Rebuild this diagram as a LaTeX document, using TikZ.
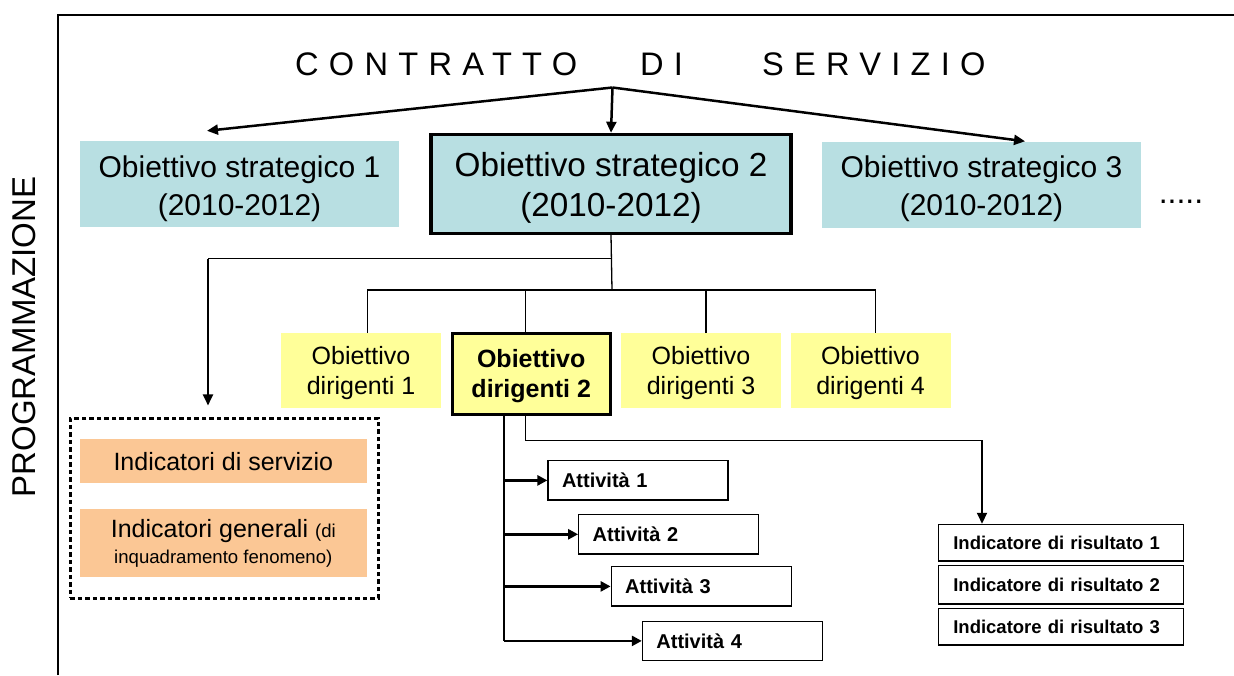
\documentclass[tikz,border=0pt]{standalone}
\usepackage{fontspec}
\setmainfont{Liberation Sans}
\newfontfamily\spacedfont[LetterSpace=31.5]{Liberation Sans}
\usetikzlibrary{arrows.meta,positioning}
\definecolor{stratfill}{HTML}{B8DFE2}
\definecolor{dirfill}{HTML}{FFFF99}
\definecolor{indfill}{HTML}{FBC795}
\tikzset{
  stratbox/.style={fill=stratfill,minimum width=319pt,minimum height=86pt,
                   align=center,inner sep=0pt,font=\fontsize{30}{38}\selectfont,
                   execute at begin node={\rule{0pt}{68.5pt}}},
  stratmain/.style={stratbox,draw=black,line width=3.3pt,minimum width=360pt,
                    minimum height=99pt,font=\fontsize{33.3}{40}\selectfont,
                    execute at begin node={\rule{0pt}{72pt}}},
  dirbox/.style={fill=dirfill,minimum width=160pt,minimum height=75pt,
                 align=center,inner sep=0pt,font=\fontsize{25}{30}\selectfont,
                 execute at begin node={\rule{0pt}{53pt}}},
  dirmain/.style={dirbox,draw=black,line width=3pt,minimum width=157.7pt,
                  minimum height=81.3pt,font=\fontsize{25}{30}\selectfont\bfseries},
  indbox/.style={fill=indfill,minimum width=286.7pt,align=center,inner sep=0pt,
                 font=\fontsize{25}{26}\selectfont},
  groupbox/.style={draw=black,line width=2.5pt,dash pattern=on 4.5pt off 3pt,
                   minimum width=308pt,minimum height=180pt,inner sep=0pt},
  actbox/.style={draw=black,line width=1.2pt,text width=152pt,inner xsep=14pt,
                 inner ysep=0pt,minimum height=39.3pt,align=left,
                 font=\fontsize{20}{24}\selectfont\bfseries},
  resbox/.style={draw=black,line width=1.2pt,text width=215pt,inner xsep=15pt,
                 inner ysep=0pt,minimum height=36.7pt,align=left,
                 font=\fontsize{18.5}{22}\selectfont\bfseries},
  thinline/.style={line width=1.3pt},
  thickarr/.style={-{Triangle[length=11pt,width=10pt]},line width=2.5pt},
  actarr/.style={-{Triangle[length=10pt,width=10pt]},line width=2.5pt},
  downarr/.style={-{Triangle[length=11pt,width=10pt]},line width=2pt}
}

\begin{document}
\begin{tikzpicture}[x=1pt,y=-1pt]
  \useasboundingbox (0,0) rectangle (1234,675);
  \draw[thinline] (58,675) -- (58,15) -- (1234,15);

  \node[rotate=90,inner sep=0pt,font=\fontsize{33}{33}\selectfont] (prog) at (24,337) {PROGRAMMAZIONE};
  \node[anchor=base west,inner sep=0pt,font=\fontsize{32.6}{36}\spacedfont] (title) at (295,75)
    {CONTRATTO\hspace{63pt}DI\hspace{79pt}SERVIZIO};

  % obiettivi strategici
  \node[stratbox] (s1) at (239.5,184) {Obiettivo strategico 1\\(2010-2012)};
  \node[stratmain] (s2) at (611,183.9) {Obiettivo strategico 2\\(2010-2012)};
  \node[stratbox] (s3) at (981.5,184.5) {Obiettivo strategico 3\\(2010-2012)};
  \node[anchor=base,inner sep=0pt,font=\fontsize{32}{32}\selectfont] (more) at (1181,203) {.....};

  \coordinate (hub) at (612.5,87.5);
  \draw[thickarr] (hub) -- ([xshift=-32.5pt,yshift=10pt]s1.north);
  \draw[thickarr] (hub) -- (s2.north);
  \draw[thickarr] (hub) -- ([xshift=43.5pt]s3.north);

  % obiettivi dirigenti
  \node[dirbox] (d1) at (361,370.8) {Obiettivo\\dirigenti 1};
  \node[dirmain] (d2) at (531.2,373.9) {Obiettivo\\dirigenti 2};
  \node[dirbox] (d3) at (701,370.8) {Obiettivo\\dirigenti 3};
  \node[dirbox] (d4) at (870.5,370.8) {Obiettivo\\dirigenti 4};

  \coordinate (fork1) at (612,258.5);
  \coordinate (fork2) at (612,290);
  \draw[thinline] (s2.south) -- (fork2);
  \draw[thinline] ([xshift=6.3pt]d1.north) -- ([xshift=6.3pt]d1.north |- fork2)
    -- ([xshift=5.3pt]d4.north |- fork2) -- ([xshift=5.3pt]d4.north);
  \draw[thinline] ([xshift=-5.8pt]d2.north) -- ([xshift=-5.8pt]d2.north |- fork2);
  \draw[thinline] ([xshift=5pt]d3.north) -- ([xshift=5pt]d3.north |- fork2);

  % indicatori
  \node[groupbox] (grp) at (224.4,508.3) {};
  \node[indbox,minimum height=44pt] (isrv) at (223.3,461.3) {Indicatori di servizio};
  \node[indbox,minimum height=67.4pt] (igen) at (223.3,543)
    {Indicatori generali {\fontsize{18.6}{22}\selectfont(di}\\{\fontsize{18.6}{22}\selectfont inquadramento fenomeno)}};

  \coordinate (grptop) at ([xshift=-16.4pt]grp.north);
  \draw[thinline] (fork1) -- (fork1 -| grptop);
  \draw[downarr,shorten >=11.6pt] (fork1 -| grptop) -- (grptop);

  % attivita
  \node[actbox] (a1) at (638,480.4) {Attività 1};
  \node[actbox] (a2) at (668.7,534.3) {Attività 2};
  \node[actbox] (a3) at (701.2,586.4) {Attività 3};
  \node[actbox] (a4) at (732.4,640.9) {Attività 4};

  \coordinate (spine) at ([xshift=-27.2pt]d2.south);
  \draw[thinline] (spine) -- (spine |- a4.west);
  \foreach \act in {a1,a2,a3,a4}
    \draw[actarr] (spine |- \act.west) -- (\act.west);

  % indicatori di risultato
  \node[resbox] (r1) at (1060.8,542.7) {Indicatore di risultato 1};
  \node[resbox,minimum height=38.3pt] (r2) at (1060.8,584.9) {Indicatore di risultato 2};
  \node[resbox] (r3) at (1060.8,626.7) {Indicatore di risultato 3};

  \coordinate (rbend) at (982,440.3);
  \draw[thinline] ([xshift=-5.5pt]d2.south) |- (rbend);
  \draw[downarr] (rbend) -- (rbend |- r1.north);
\end{tikzpicture}
\end{document}
